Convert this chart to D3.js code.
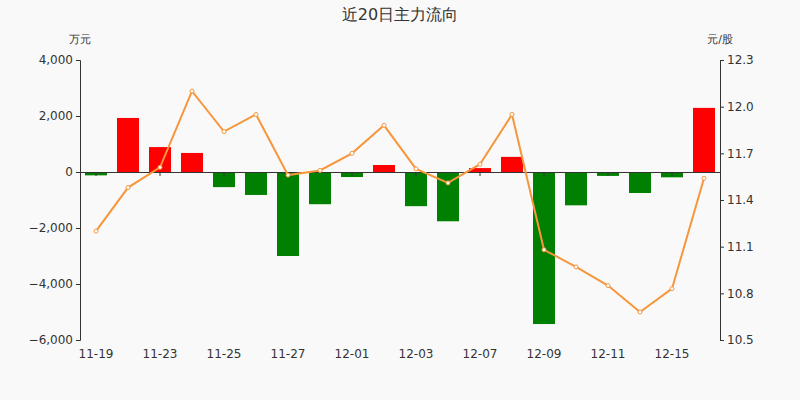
<!DOCTYPE html><html><head><meta charset="utf-8">
<script src="https://cdn.jsdelivr.net/npm/d3@7"></script>
<style>body{margin:0;background:#f9f9f9}</style></head><body>
<svg id="c" width="800" height="400"></svg>
<script>
const dates=["11-19","11-20","11-23","11-24","11-25","11-26","11-27","11-30","12-01","12-02","12-03","12-04","12-07","12-08","12-09","12-10","12-11","12-14","12-15","12-16"];
const flows=[-120,1930,890,680,-540,-820,-3000,-1150,-180,250,-1220,-1760,140,540,-5430,-1190,-140,-750,-190,2290];
const prices=[11.20,11.48,11.61,12.10,11.84,11.95,11.56,11.59,11.70,11.88,11.60,11.51,11.63,11.95,11.08,10.97,10.85,10.68,10.83,11.54];
const leftTicks=[4000,2000,0,-2000,-4000,-6000];
const rightTicks=[12.3,12,11.7,11.4,11.1,10.8,10.5];
const svg=d3.select("#c");
svg.append("rect").attr("width",800).attr("height",400).attr("fill","#f9f9f9");
const x=d3.scaleBand().domain(dates).range([80,720]);
const yl=d3.scaleLinear().domain([-6000,4000]).range([340,60]);
const yr=d3.scaleLinear().domain([10.5,12.3]).range([340,60]);
const font="DejaVu Sans, sans-serif";
svg.append("text").attr("x",400).attr("y",20).attr("text-anchor","middle").attr("font-family",font).attr("font-size",16).attr("fill","#333").text("近20日主力流向");
svg.append("text").attr("x",80).attr("y",43).attr("text-anchor","middle").attr("font-family",font).attr("font-size",11).attr("fill","#333").text("万元");
svg.append("text").attr("x",720).attr("y",43).attr("text-anchor","middle").attr("font-family",font).attr("font-size",11).attr("fill","#333").text("元/股");
const la=svg.append("g").attr("transform","translate(80,0)").call(d3.axisLeft(yl).tickValues(leftTicks).tickFormat(d3.format(",")).tickSize(4));
const ra=svg.append("g").attr("transform","translate(720,0)").call(d3.axisRight(yr).tickValues(rightTicks).tickFormat(d3.format(".1f")).tickSize(4));
[la,ra].forEach(a=>{a.selectAll("path,line").attr("stroke","#333");a.selectAll("text").attr("font-family",font).attr("font-size",12).attr("fill","#333");});
svg.selectAll(".bar").data(flows).join("rect").attr("x",(d,i)=>x(dates[i])+x.bandwidth()/2-11).attr("width",22)
 .attr("y",d=>yl(Math.max(0,d))).attr("height",d=>Math.abs(yl(d)-yl(0))).attr("fill",d=>d>=0?"#ff0000":"#008000");
const xa=svg.append("g").attr("transform",`translate(0,${yl(0)})`).call(d3.axisBottom(x).tickValues(dates.filter((d,i)=>i%2==0)).tickSize(4).tickFormat(""));
xa.selectAll("path,line").attr("stroke","#333");
svg.selectAll(".xl").data(dates.filter((d,i)=>i%2==0)).join("text").attr("x",d=>x(d)+x.bandwidth()/2).attr("y",358).attr("text-anchor","middle").attr("font-family",font).attr("font-size",12).attr("fill","#333").text(d=>d);
const line=d3.line().x((d,i)=>x(dates[i])+x.bandwidth()/2).y(d=>yr(d));
svg.append("path").attr("d",line(prices)).attr("fill","none").attr("stroke","#f7963c").attr("stroke-width",2);
svg.selectAll(".pt").data(prices).join("circle").attr("cx",(d,i)=>x(dates[i])+x.bandwidth()/2).attr("cy",d=>yr(d)).attr("r",2).attr("fill","#fff").attr("stroke","#f7963c");
</script></body></html>
